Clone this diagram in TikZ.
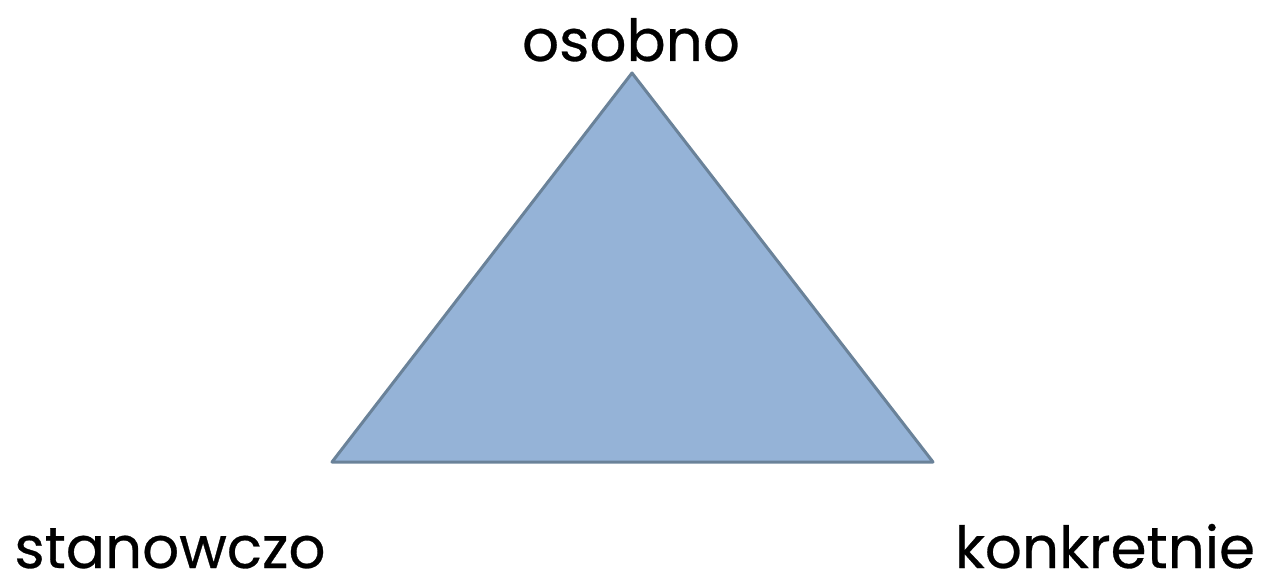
\documentclass[tikz,border=0pt]{standalone}
\usepackage{fontspec}
\setmainfont{Poppins}
\newfontfamily\lblfont{Poppins}[FakeBold=0.5]
\definecolor{trifill}{HTML}{95B3D7}
\definecolor{triedge}{HTML}{6A8299}
\begin{document}
\begin{tikzpicture}[x=1pt,y=-1pt,
  lbl/.style={font=\lblfont\fontsize{58}{62}\selectfont, anchor=base, inner sep=0pt, text=black},
  tri/.style={fill=trifill, draw=triedge, line width=3pt, line join=round}]
\useasboundingbox (0,0) rectangle (1269,575);
\coordinate (top) at (632,73);
\coordinate (bl) at (332,462);
\coordinate (br) at (933,462);
\draw[tri] (top) -- (bl) -- (br) -- cycle;
\node[lbl] (osobno) at (631,61) {osobno};
\node[lbl] (stanowczo) at (170,568) {stanowczo};
\node[lbl] (konkretnie) at (1105,568) {konkretnie};
\end{tikzpicture}
\end{document}
